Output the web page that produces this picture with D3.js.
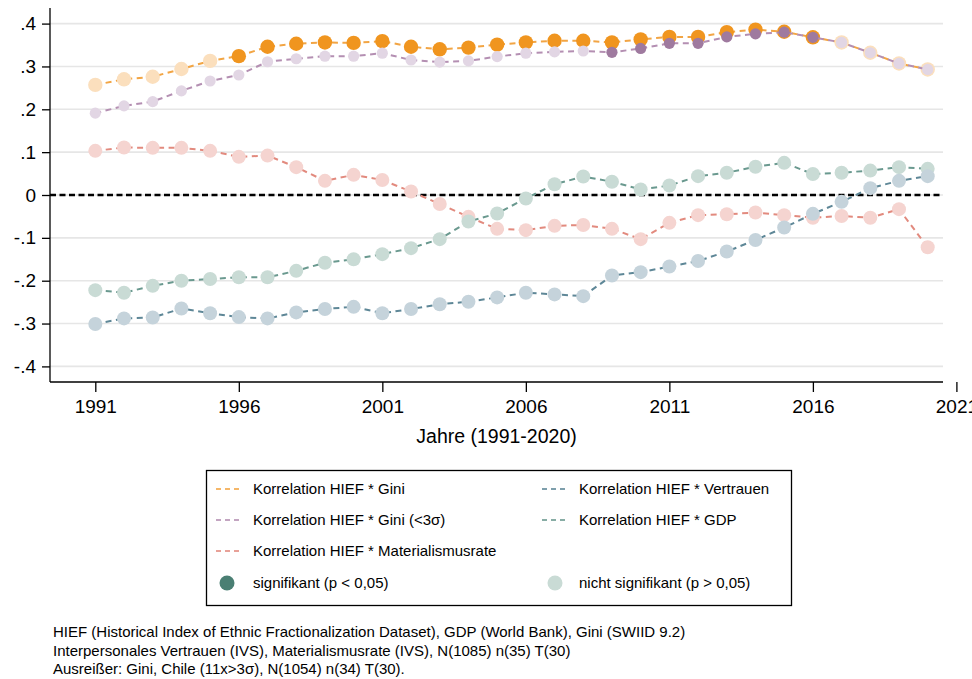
<!DOCTYPE html>
<html>
<head>
<meta charset="utf-8">
<script src="https://cdn.jsdelivr.net/npm/d3@7"></script>
<style>
  body { margin: 0; background: #fff; }
  svg { display: block; font-family: "Liberation Sans", Arial, sans-serif; }
</style>
</head>
<body>
<div class="board"></div>
<script>
// years 1991-2020
var years = [1991, 1992, 1993, 1994, 1995, 1996, 1997, 1998, 1999, 2000,
  2001, 2002, 2003, 2004, 2005, 2006, 2007, 2008, 2009, 2010,
  2011, 2012, 2013, 2014, 2015, 2016, 2017, 2018, 2019, 2020];

var giniVals = [.257, .270, .276, .294, .313, .324, .346, .353, .356, .355,
  .359, .346, .340, .344, .351, .356, .360, .360, .356, .363,
  .369, .369, .380, .386, .381, .368, .356, .332, .307, .293];
var giniSig = [0, 0, 0, 0, 0, 1, 1, 1, 1, 1, 1, 1, 1, 1, 1, 1, 1, 1, 1, 1,
  1, 1, 1, 1, 1, 1, 0, 0, 0, 0];

var gini3Vals = [.191, .208, .218, .243, .266, .280, .311, .318, .324, .324,
  .331, .315, .310, .313, .323, .331, .334, .336, .333, .342,
  .354, .354, .369, .376, .380, .368, .356, .332, .307, .293];
var gini3Sig = [0, 0, 0, 0, 0, 0, 0, 0, 0, 0, 0, 0, 0, 0, 0, 0, 0, 0, 1, 1,
  1, 1, 1, 1, 1, 1, 0, 0, 0, 0];

var matVals = [.103, .111, .110, .110, .103, .089, .092, .065, .033, .047,
  .035, .008, -.021, -.051, -.079, -.082, -.072, -.070, -.079, -.103,
  -.065, -.047, -.045, -.041, -.047, -.053, -.049, -.053, -.033, -.122];

var gdpVals = [-.222, -.228, -.212, -.200, -.196, -.192, -.192, -.177, -.158, -.150,
  -.138, -.124, -.103, -.062, -.043, -.008, .025, .043, .031, .013,
  .022, .044, .052, .066, .075, .049, .052, .057, .065, .061];

var vertVals = [-.301, -.288, -.286, -.265, -.276, -.285, -.288, -.274, -.266, -.261,
  -.276, -.266, -.255, -.249, -.239, -.228, -.232, -.236, -.188, -.180,
  -.167, -.154, -.132, -.105, -.076, -.044, -.016, .016, .033, .044];

var noSig = years.map(function () { return 0; });

var yTicks = [.4, .3, .2, .1, 0, -.1, -.2, -.3, -.4];
var yTickLabels = [".4", ".3", ".2", ".1", "0", "-.1", "-.2", "-.3", "-.4"];
var xTicks = [1991, 1996, 2001, 2006, 2011, 2016, 2021];

var footLines = [
  "HIEF (Historical Index of Ethnic Fractionalization Dataset), GDP (World Bank), Gini (SWIID 9.2)",
  "Interpersonales Vertrauen (IVS), Materialismusrate (IVS), N(1085) n(35) T(30)",
  "Ausreißer: Gini, Chile (11x>3σ), N(1054) n(34) T(30)."
];

// drawing order = layering order
var series = [
  { name: "Korrelation HIEF * Gini", vals: giniVals, sig: giniSig, line: "#F2A544", on: "#F0951F", off: "#FBDFBD", r: 7.2 },
  { name: "Korrelation HIEF * Gini (<3σ)", vals: gini3Vals, sig: gini3Sig, line: "#B48FB2", on: "#9F7A9F", off: "#E2D6E4", r: 5.6 },
  { name: "Korrelation HIEF * Materialismusrate", vals: matVals, sig: noSig, line: "#E28A7E", on: "#D86B5C", off: "#F5D4D0", r: 7 },
  { name: "Korrelation HIEF * GDP", vals: gdpVals, sig: noSig, line: "#6A998F", on: "#4A7F73", off: "#C9DBD5", r: 7 },
  { name: "Korrelation HIEF * Vertrauen", vals: vertVals, sig: noSig, line: "#5E8797", on: "#3F6D7E", off: "#C5D3DB", r: 7 }
];

var W = 972, H = 679;
var plot = { left: 50, right: 943, top: 8, bottom: 382 };

var svg = d3.select(".board").append("svg")
  .attr("width", W)
  .attr("height", H);

var x = d3.scaleLinear().domain([1991, 2020]).range([95.3, 927.7]);
var y = d3.scaleLinear().domain([-.4, .4]).range([366.4, 23.6]);

// gridlines
svg.append("g").selectAll("line").data(yTicks).enter().append("line")
  .attr("x1", plot.left).attr("x2", plot.right)
  .attr("y1", function (d) { return y(d); })
  .attr("y2", function (d) { return y(d); })
  .attr("stroke", "#e6e6e6")
  .attr("stroke-width", 1.6);

// zero line
svg.append("line")
  .attr("x1", plot.left).attr("x2", plot.right)
  .attr("y1", y(0)).attr("y2", y(0))
  .attr("stroke", "#000")
  .attr("stroke-width", 2.4)
  .attr("stroke-dasharray", "6,3.5");

// y axis
var yAxis = d3.axisLeft(y)
  .tickValues(yTicks)
  .tickFormat(function (d, i) { return yTickLabels[i]; })
  .tickSize(8)
  .tickPadding(6);
var gy = svg.append("g").attr("transform", "translate(" + plot.left + ",0)").call(yAxis);
gy.select(".domain").remove();
gy.append("line").attr("x1", 0).attr("x2", 0).attr("y1", plot.top).attr("y2", plot.bottom)
  .attr("stroke", "#000").attr("stroke-width", 1.3);
gy.selectAll(".tick line").attr("stroke", "#000").attr("stroke-width", 1.3);
gy.selectAll(".tick text").attr("font-size", 19).attr("fill", "#000")
  .attr("font-family", "Liberation Sans, Arial, sans-serif");

// x axis
var xAxis = d3.axisBottom(x)
  .tickValues(xTicks)
  .tickFormat(d3.format("d"))
  .tickSize(10)
  .tickPadding(8);
var gx = svg.append("g").attr("transform", "translate(0," + plot.bottom + ")").call(xAxis);
gx.select(".domain").remove();
gx.append("line").attr("x1", plot.left).attr("x2", plot.right).attr("y1", 0).attr("y2", 0)
  .attr("stroke", "#000").attr("stroke-width", 1.3);
gx.selectAll(".tick line").attr("stroke", "#000").attr("stroke-width", 1.3);
gx.selectAll(".tick text").attr("font-size", 19).attr("fill", "#000")
  .attr("font-family", "Liberation Sans, Arial, sans-serif");

svg.append("text")
  .attr("x", (plot.left + plot.right) / 2)
  .attr("y", 443)
  .attr("text-anchor", "middle")
  .attr("font-size", 19.5)
  .text("Jahre (1991-2020)");

// series
var line = d3.line()
  .x(function (d) { return x(d.year); })
  .y(function (d) { return y(d.v); });

series.forEach(function (s) {
  var pts = years.map(function (yr, i) { return { year: yr, v: s.vals[i], sig: s.sig[i] }; });
  svg.append("path")
    .datum(pts)
    .attr("d", line)
    .attr("fill", "none")
    .attr("stroke", s.line)
    .attr("stroke-width", 2)
    .attr("stroke-dasharray", "6,4.5");
  svg.append("g").selectAll("circle").data(pts).enter().append("circle")
    .attr("cx", function (d) { return x(d.year); })
    .attr("cy", function (d) { return y(d.v); })
    .attr("r", s.r)
    .attr("fill", function (d) { return d.sig ? s.on : s.off; });
});

// legend
var leg = svg.append("g");
leg.append("rect")
  .attr("x", 206.5).attr("y", 470.5)
  .attr("width", 585).attr("height", 135)
  .attr("fill", "#fff")
  .attr("stroke", "#000")
  .attr("stroke-width", 1.3);

var legItems = [
  { s: series[0], col: 0, row: 0 },
  { s: series[1], col: 0, row: 1 },
  { s: series[2], col: 0, row: 2 },
  { s: series[4], col: 1, row: 0 },
  { s: series[3], col: 1, row: 1 }
];
var colX = [216, 542];
var rowY = [489, 520, 551, 583];

legItems.forEach(function (it) {
  var lx = colX[it.col], ly = rowY[it.row];
  leg.append("line")
    .attr("x1", lx).attr("x2", lx + 26)
    .attr("y1", ly).attr("y2", ly)
    .attr("stroke", it.s.line)
    .attr("stroke-opacity", 0.8)
    .attr("stroke-width", 1.8)
    .attr("stroke-dasharray", "5,4");
  leg.append("text")
    .attr("x", lx + 37).attr("y", ly)
    .attr("dy", "0.35em")
    .attr("font-size", 15)
    .text(it.s.name);
});

leg.append("circle").attr("cx", 227).attr("cy", rowY[3]).attr("r", 7.5).attr("fill", "#4A7F73");
leg.append("text").attr("x", 253).attr("y", rowY[3]).attr("dy", "0.35em")
  .attr("font-size", 15).text("signifikant (p < 0,05)");
leg.append("circle").attr("cx", 555).attr("cy", rowY[3]).attr("r", 7.5).attr("fill", "#C9DBD5");
leg.append("text").attr("x", 579).attr("y", rowY[3]).attr("dy", "0.35em")
  .attr("font-size", 15).text("nicht signifikant (p > 0,05)");

// footnote
svg.append("g").selectAll("text").data(footLines).enter().append("text")
  .attr("x", 53)
  .attr("y", function (d, i) { return 632 + i * 18.5; })
  .attr("dy", "0.35em")
  .attr("font-size", 15)
  .text(function (d) { return d; });
</script>
</body>
</html>
